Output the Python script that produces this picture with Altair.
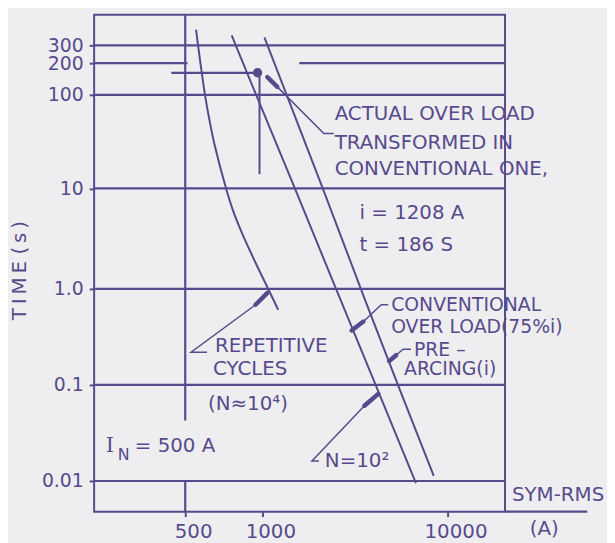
import altair as alt
import pandas as pd

PURPLE = "#574a8c"
BG = "#eeeef0"
FONT = "DejaVu Sans"

# ---- axis ticks ----
x_ticks = [500, 1000, 10000]
y_ticks = [0.01, 0.1, 1, 10, 100, 200, 300]

# ---- curves (current A, time s) ----
rep_current = [551, 561, 597, 623, 650, 722, 768, 833, 942, 1074, 1216]
rep_time = [447, 300, 100, 51.8, 29.6, 9.9, 6.0, 3.57, 1.80, 1.0, 0.607]

conv_current = [759, 787, 945, 1497, 2497, 4085, 6745]
conv_time = [385, 300, 100, 10, 1.0, 0.1, 0.0095]

pre_current = [1025, 1065, 1351, 2122, 3581, 5390, 8417]
pre_time = [366, 300, 100, 9.9, 0.77, 0.1, 0.0113]

# actual overload point
dot_current = [957]
dot_time = [162]

# gridlines
hgrid_time = [300, 100, 10, 1, 0.1, 0.01]
hgrid_start = [100] * 6
hgrid_end = [20000] * 6
seg200_start = [100, 1580]
seg200_end = [510, 20000]
v500_low = [0.0425, 0.0048]
v500_high = [650, 0.01]

# leader lines: thin paths
lead_id = ["a", "a", "a", "b", "b", "b", "c", "c", "c", "d", "d", "d", "e", "e", "e"]
lead_k = [0, 1, 2] * 5
lead_current = [1203, 2146, 2427,
                940, 527, 608,
                3510, 4383, 4777,
                5272, 5745, 6344,
                3555, 1851, 2018]
lead_time = [119, 38.7, 38.7,
             0.684, 0.219, 0.219,
             0.457, 0.684, 0.684,
             0.204, 0.235, 0.235,
             0.0607, 0.0161, 0.0161]
# leader arrow heads (thick part)
head_id = ["a", "a", "b", "b", "c", "c", "d", "d", "e", "e"]
head_current = [1063, 1203, 1063, 940, 3030, 3510, 4836, 5272, 4224, 3555]
head_time = [147.6, 119, 0.91, 0.684, 0.369, 0.457, 0.1768, 0.204, 0.0808, 0.0607]

# annotations (large)
txt = ["ACTUAL OVER LOAD", "TRANSFORMED   IN", "CONVENTIONAL  ONE,",
       "i = 1208 A", "t = 186 S",
       "REPETITIVE", "CYCLES", "(N≈10⁴)", "N=10²",
       "= 500 A", "SYM-RMS", "(A)"]
txt_current = [2455, 2455, 2455, 3342, 3342,
               653, 641, 613, 2173, 205, 21740, 26970]
txt_time = [63, 30.3, 16.1, 5.74, 2.71,
            0.2523, 0.146, 0.0637, 0.0161, 0.02296, 0.00718, 0.00314]
# annotations in the tight stack on the right
stack_txt = ["CONVENTIONAL", "OVER LOAD(75%i)", "PRE –", "ARCING(i)"]
stack_current = [4956, 4956, 6579, 5818]
stack_time = [0.684, 0.396, 0.2296, 0.146]
# I_N
cap_txt = ["I"]
cap_current = [123]
cap_time = [0.02296]
sub_txt = ["N"]
sub_current = [152]
sub_time = [0.0188]

# ---- scales (piecewise log to follow the drawn paper) ----
xscale = alt.Scale(type="log", domain=[100, 500, 1000, 10000, 20000],
                   range=[0, 92, 170, 357, 415], nice=False)
yscale = alt.Scale(type="log",
                   domain=[0.0048, 0.01, 0.1, 1, 10, 100, 200, 300, 650],
                   range=[502, 471, 374, 277, 175.5, 81, 49, 31, 0], nice=False)

xaxis = alt.Axis(values=x_ticks, format="d", title=None, domain=False, grid=False,
                 ticks=True, tickSize=5, tickWidth=2, tickColor=PURPLE,
                 labelColor=PURPLE, labelFont=FONT, labelFontSize=20,
                 labelOverlap=False, labelBaseline="middle", labelPadding=15,
                 labelOffset=8)
yaxis = alt.Axis(values=y_ticks, domain=False, grid=False, labelOverlap=False,
                 labelExpr="datum.value == 1 ? '1.0' : datum.value == 0.1 ? '0.1' : datum.value == 0.01 ? '0.01' : format(datum.value, 'd')",
                 ticks=True, tickSize=5, tickWidth=2, tickColor=PURPLE,
                 labelColor=PURPLE, labelFont=FONT, labelFontSize=19, labelPadding=6,
                 title="T\u2009I\u2009M\u2009E  (\u2009s\u2009)", titleX=-75, titleY=258,
                 titleAngle=270, titleAlign="center", titleBaseline="middle",
                 titleFont=FONT, titleFontSize=20, titleFontWeight="normal",
                 titleColor=PURPLE)


def X(f="current"):
    return alt.X(f"{f}:Q", scale=xscale, axis=xaxis)


def Y(f="time"):
    return alt.Y(f"{f}:Q", scale=yscale, axis=yaxis)


rep_df = pd.DataFrame({"current": rep_current, "time": rep_time})
conv_df = pd.DataFrame({"current": conv_current, "time": conv_time})
pre_df = pd.DataFrame({"current": pre_current, "time": pre_time})

hgrid_df = pd.DataFrame({"time": hgrid_time, "current": hgrid_start, "current2": hgrid_end})
h200_df = pd.DataFrame({"time": [200, 200], "current": seg200_start, "current2": seg200_end})
hdot_df = pd.DataFrame({"time": dot_time, "current": [391], "current2": dot_current})
v500_df = pd.DataFrame({"current": [500, 500], "time": v500_low, "time2": v500_high})
vdot_df = pd.DataFrame({"current": [974], "time": [14.2], "time2": dot_time})
ext_df = pd.DataFrame({"current": [20000], "current2": [54000], "time": [0.0048]})

lead_df = pd.DataFrame({"id": lead_id, "k": lead_k, "current": lead_current, "time": lead_time})
head_df = pd.DataFrame({"id": head_id, "current": head_current, "time": head_time})
dot_df = pd.DataFrame({"current": dot_current, "time": dot_time})
txt_df = pd.DataFrame({"label": txt, "current": txt_current, "time": txt_time})
stack_df = pd.DataFrame({"label": stack_txt, "current": stack_current, "time": stack_time})
cap_df = pd.DataFrame({"label": cap_txt, "current": cap_current, "time": cap_time})
sub_df = pd.DataFrame({"label": sub_txt, "current": sub_current, "time": sub_time})


def hrule(df):
    return alt.Chart(df).mark_rule(color=PURPLE, strokeWidth=2.2).encode(
        x=X(), x2="current2:Q", y=Y())


def vrule(df, w=2.2):
    return alt.Chart(df).mark_rule(color=PURPLE, strokeWidth=w).encode(
        x=X(), y=Y(), y2="time2:Q")


def text_layer(df, size, font=FONT):
    return alt.Chart(df).mark_text(align="left", baseline="middle", font=font,
                                   fontSize=size, color=PURPLE).encode(
        x=X(), y=Y(), text="label:N")


layers = [
    hrule(hgrid_df),
    hrule(h200_df),
    hrule(hdot_df),
    hrule(ext_df),
    vrule(v500_df),
    vrule(vdot_df, 2),
    alt.Chart(rep_df).mark_line(color=PURPLE, strokeWidth=2, interpolate="catmull-rom").encode(x=X(), y=Y()),
    alt.Chart(conv_df).mark_line(color=PURPLE, strokeWidth=2).encode(x=X(), y=Y()),
    alt.Chart(pre_df).mark_line(color=PURPLE, strokeWidth=2).encode(x=X(), y=Y()),
    alt.Chart(lead_df).mark_line(color=PURPLE, strokeWidth=1.5).encode(
        x=X(), y=Y(), detail="id:N", order="k:Q"),
    alt.Chart(head_df).mark_line(color=PURPLE, strokeWidth=4.5, strokeCap="round").encode(
        x=X(), y=Y(), detail="id:N"),
    alt.Chart(dot_df).mark_point(filled=True, color=PURPLE, size=90, opacity=1).encode(x=X(), y=Y()),
    text_layer(txt_df, 20),
    text_layer(stack_df, 19),
    text_layer(cap_df, 21, "DejaVu Serif"),
    text_layer(sub_df, 16),
]

chart = alt.layer(*layers).properties(
    width=415, height=502,
    autosize=alt.AutoSizeParams(type="none"),
    padding={"left": 87, "top": 4, "right": 103, "bottom": 35},
    background=BG,
).configure_view(stroke=PURPLE, strokeWidth=2)

chart.save("out.html", embed_options={"renderer": "svg", "actions": False})
